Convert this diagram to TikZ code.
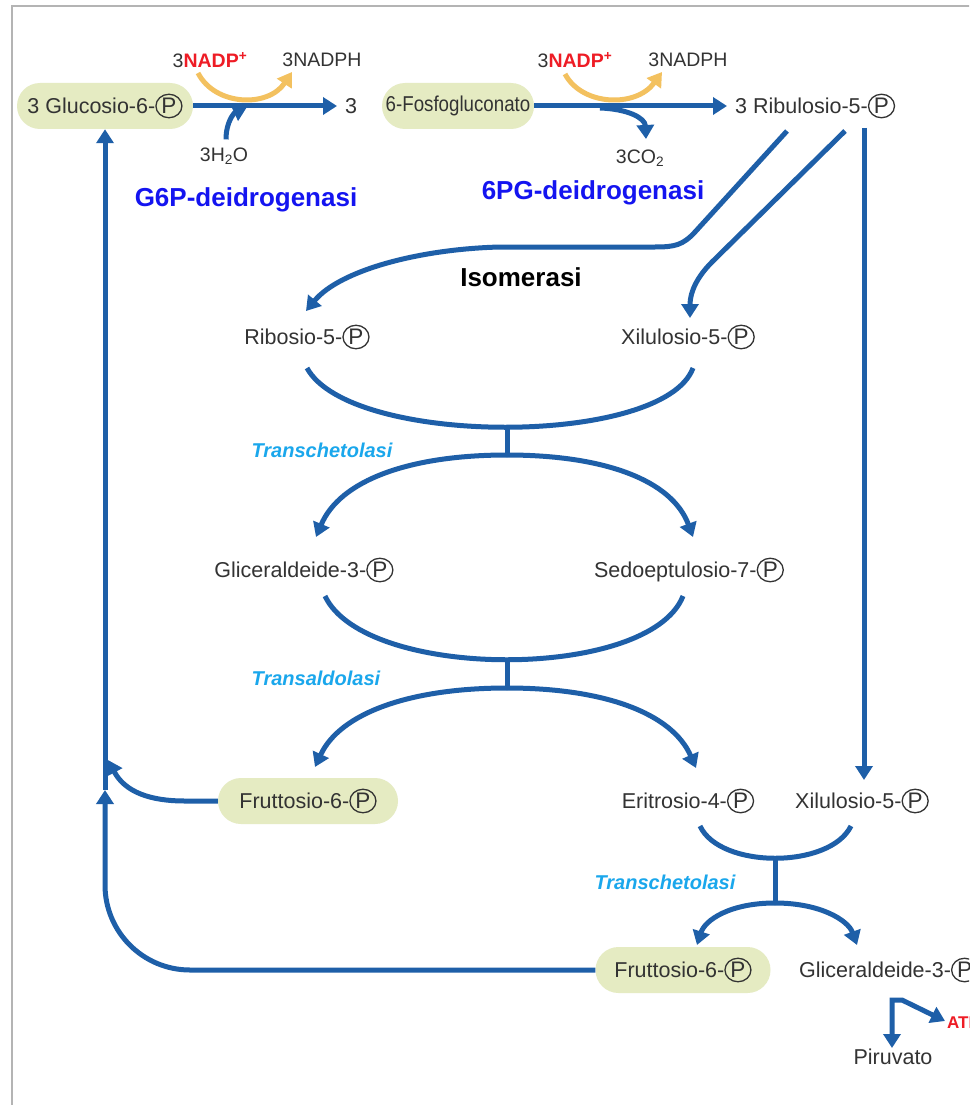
\documentclass[tikz,border=0pt]{standalone}
\usepackage{fontspec}
\setmainfont{Liberation Sans}
\usetikzlibrary{arrows.meta,shapes.geometric}
\definecolor{arb}{HTML}{1E5FA8}
\definecolor{ary}{HTML}{F3C15F}
\definecolor{pillc}{HTML}{E5EBC2}
\definecolor{txt}{HTML}{333333}
\definecolor{lblue}{HTML}{1AA7EC}
\definecolor{bblue}{HTML}{1414F0}
\definecolor{rred}{HTML}{EE1C25}
\definecolor{framec}{HTML}{B4B4B4}
\newcommand{\Pcirc}{\tikz[baseline=(pc.base)]\node[draw=txt,ellipse,inner sep=0pt,minimum width=26pt,minimum height=23.5pt,line width=1.3pt,text=txt,font=\fontsize{22.5}{25}\selectfont](pc){P};}
\tikzset{
  comp/.style={text=txt, font=\fontsize{21.5}{25}\selectfont, inner sep=0pt},
  small/.style={text=txt, font=\fontsize{19.5}{23}\selectfont, inner sep=0pt},
  pillbox/.style={comp, fill=pillc, rounded corners=23pt, minimum height=46pt},
  flow/.style={draw=arb, line width=5pt, -{Triangle[width=17pt,length=14pt]}},
  yflow/.style={draw=ary, line width=5pt, -{Triangle[width=17pt,length=14pt]}},
  bar/.style={draw=arb, line width=5pt},
  enz/.style={font=\fontsize{26}{30}\selectfont\bfseries, text=bblue, inner sep=0pt},
  trk/.style={font=\fontsize{20}{24}\selectfont\bfseries\itshape, text=lblue, inner sep=0pt},
}
\begin{document}
\begin{tikzpicture}[x=1pt,y=-1pt]
\clip (0,0) rectangle (969,1105);
\fill[white] (0,0) rectangle (969,1105);
\draw[framec, line width=1.5pt] (12,1110) -- (12,6) -- (975,6);

% top row
\node[pillbox, minimum width=176pt] (glc) at (105,106) {3 Glucosio-6-\Pcirc};
\node[comp, anchor=west] (three) at (345,106) {3};
\node[pillbox, minimum width=152pt] (fpg) at (458,106) {\scalebox{0.87}[1]{6-Fosfogluconato}};
\node[comp, anchor=west] (ribu) at (735,106) {3 Ribulosio-5-\Pcirc};

\node[small] (nadp1) at (210,60) {3\textcolor{rred}{\bfseries NADP\textsuperscript{+}}};
\node[small] (nadph1) at (322,60) {3NADPH};
\node[small] (h2o) at (224,156) {3H\textsubscript{2}O};
\node[small] (nadp2) at (575,60) {3\textcolor{rred}{\bfseries NADP\textsuperscript{+}}};
\node[small] (nadph2) at (688,60) {3NADPH};
\node[small] (co2) at (640,158) {3CO\textsubscript{2}};

\node[enz] (g6p) at (246,200) {G6P-deidrogenasi};
\node[enz] (pg6) at (593,193) {6PG-deidrogenasi};
\node[font=\fontsize{26}{30}\selectfont\bfseries, inner sep=0pt] (iso) at (521,277) {Isomerasi};

% compounds
\node[comp] (rib) at (307,337) {Ribosio-5-\Pcirc};
\node[comp] (xil1) at (688,337) {Xilulosio-5-\Pcirc};
\node[comp] (gap1) at (304,570) {Gliceraldeide-3-\Pcirc};
\node[comp] (sedo) at (689,570) {Sedoeptulosio-7-\Pcirc};
\node[pillbox, minimum width=180pt] (fru1) at (308,801) {Fruttosio-6-\Pcirc};
\node[comp] (eri) at (688,801) {Eritrosio-4-\Pcirc};
\node[comp] (xil2) at (862,801) {Xilulosio-5-\Pcirc};
\node[pillbox, minimum width=175pt] (fru2) at (683,970) {Fruttosio-6-\Pcirc};
\node[comp, anchor=west] (gap2) at (799,970) {Gliceraldeide-3-\Pcirc};
\node[comp] (piru) at (893,1057) {Piruvato};
\node[font=\fontsize{17}{20}\selectfont\bfseries, text=rred, inner sep=0pt, anchor=west] (atp) at (947,1023) {ATP};

\node[trk] (tk1) at (322,450) {Transchetolasi};
\node[trk] (ta) at (316,678) {Transaldolasi};
\node[trk] (tk2) at (665,882) {Transchetolasi};

% top reactions
\draw[yflow] (198,73) .. controls (215,106) and (268,108) .. (292,72);
\draw[flow] (glc.east) -- ([xshift=-8pt]three.west);
\draw[flow] (h2o.north) ++(2,-8) .. controls (226,122) and (234,113) .. (247,107);

\draw[yflow] (565,74) .. controls (582,106) and (636,108) .. (662,72);
\draw[flow] (fpg.east) -- ([xshift=-8pt]ribu.west);
\draw[flow] (600,108) .. controls (628,109) and (645,118) .. (646,139);

% ribulosio branches
\coordinate (r1) at (787,131);
\coordinate (r2) at (845,131);
\coordinate (r3) at (864,128);
\draw[flow] (r1) -- (695,232) .. controls (683,245) and (675,247) .. (655,247) -- (500,247) .. controls (420,249) and (340,270) .. (306,311);
\draw[flow] (r2) -- (712,262) .. controls (697,277) and (690,292) .. (690,318);
\draw[flow] (r3) -- (864,780);

% transketolase 1
\draw[bar] (307,368) .. controls (350,447) and (664,447) .. (693,368);
\draw[bar] (507,425) -- (507,456);
\draw[flow] (507,455) .. controls (410,455) and (340,480) .. (316,537);
\draw[flow] (507,455) .. controls (604,455) and (672,480) .. (693,537);

% transaldolase
\draw[bar] (325,596) .. controls (365,681) and (650,681) .. (683,596);
\draw[bar] (507,658) -- (507,689);
\draw[flow] (507,688) .. controls (410,688) and (340,713) .. (315,767);
\draw[flow] (507,688) .. controls (604,688) and (672,713) .. (696,768);

% transketolase 2
\draw[bar] (700,826) .. controls (720,869) and (830,869) .. (851,826);
\draw[bar] (775,856) -- (775,904);
\draw[flow] (775,903) .. controls (730,903) and (705,920) .. (697,945);
\draw[flow] (775,903) .. controls (820,903) and (848,920) .. (857,945);

% returns to glucose-6-P
\draw[flow] (fru1.west) -- (185,801) .. controls (150,801) and (125,792) .. (108,760);
\draw[flow, rounded corners=85pt] (fru2.west) -- (105,970) -- (105,790);
\draw[flow] (105,790) -- (glc.south);

% glyceraldehyde fate
\draw[draw=arb, line width=5pt, {Triangle[width=17pt,length=14pt]}-{Triangle[width=17pt,length=14pt]}] (892,1048) -- (892,1000) -- (902,1000) -- (945,1021);
\end{tikzpicture}
\end{document}
